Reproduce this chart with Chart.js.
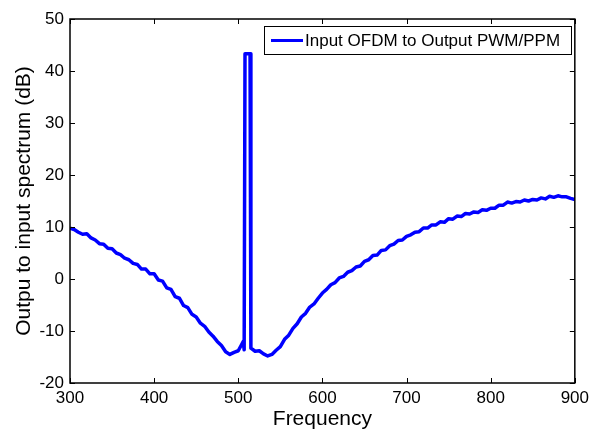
<!DOCTYPE html>
<html>
<head>
<meta charset="utf-8">
<script src="https://cdn.jsdelivr.net/npm/chart.js@4/dist/chart.umd.min.js"></script>
<style>
  html, body { margin: 0; padding: 0; background: #fff; }
  #wrap { width: 594px; height: 432px; }
</style>
</head>
<body>
<div id="wrap"><canvas id="grafico" width="594" height="432"></canvas></div>
<script>
// values
const frequencias = [300,305,310,315,320,325,330,335,340,345,350,355,360,365,370,375,380,385,390,395,
  400,405,410,415,420,425,430,435,440,445,450,455,460,465,470,475,480,485,490,495,
  500,504,506,507,508,514,515,520,525,530,535,540,545,550,555,560,565,570,575,580,
  585,590,595,600,605,610,615,620,625,630,635,640,645,650,655,660,665,670,675,680,
  685,690,695,700,705,710,715,720,725,730,735,740,745,750,755,760,765,770,775,780,
  785,790,795,800,805,810,815,820,825,830,835,840,845,850,855,860,865,870,875,880,
  885,890,895,900];
const ganhoDb = [9.8,9.5,9.0,8.6,8.7,7.9,7.5,6.8,6.7,5.9,5.8,5.0,4.7,4.0,3.7,3.0,2.8,1.9,1.9,1.0,
  1.0,-0.2,-0.4,-1.7,-2.0,-3.4,-3.7,-5.1,-5.5,-6.8,-7.3,-8.5,-9.1,-10.2,-11.0,-12.0,-12.8,-14.0,-14.5,-14.1,
  -13.8,-12.6,-12.0,-13.6,43.3,43.3,-13.3,-13.9,-13.8,-14.4,-14.8,-14.5,-13.7,-13.0,-11.6,-10.8,-9.5,-8.6,-7.3,-6.6,
  -5.4,-4.8,-3.7,-2.7,-2.0,-1.1,-0.7,0.2,0.5,1.3,1.6,2.3,2.5,3.4,3.7,4.5,4.6,5.5,5.6,6.4,
  6.7,7.4,7.5,8.2,8.5,9.0,9.1,9.8,9.8,10.4,10.4,11.0,10.9,11.6,11.5,12.1,12.0,12.6,12.5,12.9,
  12.8,13.3,13.2,13.6,13.6,14.2,14.2,14.8,14.6,14.9,14.8,15.2,15.0,15.3,15.2,15.6,15.4,15.9,15.7,16.0,
  15.8,15.8,15.5,15.3];
const serieNome = 'Input OFDM to Output PWM/PPM';
const xTicks = [300,400,500,600,700,800,900];
const yTicks = [-20,-10,0,10,20,30,40,50];

const fonte = 'Liberation Sans, Arial, sans-serif';

// box around the plot with inward ticks on all four sides, matlab style
const caixaPlugin = {
  id: 'caixa',
  afterDraw(chart) {
    const ctx = chart.ctx;
    const a = chart.chartArea;
    const sx = chart.scales.x, sy = chart.scales.y;
    const t = 5;
    ctx.save();
    ctx.strokeStyle = '#000';
    ctx.lineWidth = 1;
    ctx.beginPath();
    xTicks.forEach(v => {
      const px = Math.round(sx.getPixelForValue(v)) + 0.5;
      ctx.moveTo(px, a.bottom); ctx.lineTo(px, a.bottom - t);
      ctx.moveTo(px, a.top); ctx.lineTo(px, a.top + t);
    });
    yTicks.forEach(v => {
      const py = Math.round(sy.getPixelForValue(v)) + 0.5;
      ctx.moveTo(a.left, py); ctx.lineTo(a.left + t, py);
      ctx.moveTo(a.right, py); ctx.lineTo(a.right - t, py);
    });
    ctx.stroke();
    ctx.lineWidth = 1.5;
    ctx.strokeRect(a.left, a.top, a.right - a.left, a.bottom - a.top);

    // legend inside the plot, top right
    const ds = chart.data.datasets[0];
    const lx = 264.5, ly = 26.5, lw = 307, lh = 28;
    ctx.fillStyle = '#fff';
    ctx.fillRect(lx, ly, lw, lh);
    ctx.lineWidth = 1;
    ctx.strokeStyle = '#000';
    ctx.strokeRect(lx, ly, lw, lh);
    ctx.strokeStyle = ds.borderColor;
    ctx.lineWidth = 3;
    ctx.beginPath();
    ctx.moveTo(271, ly + lh / 2);
    ctx.lineTo(303, ly + lh / 2);
    ctx.stroke();
    ctx.fillStyle = '#000';
    ctx.font = '17px ' + fonte;
    ctx.textBaseline = 'middle';
    ctx.textAlign = 'left';
    ctx.fillText(ds.label, 305, ly + lh / 2 + 1);
    ctx.restore();
  }
};

function plotaGrafico() {
  const dados = frequencias.map((f, i) => ({ x: f, y: ganhoDb[i] }));
  const config = {
    type: 'line',
    data: {
      datasets: [{
        label: serieNome,
        data: dados,
        borderColor: '#0000ff',
        borderWidth: 3.5,
        borderJoinStyle: 'round',
        pointRadius: 0,
        tension: 0,
        fill: false
      }]
    },
    options: {
      responsive: false,
      animation: false,
      layout: { padding: { top: 19, right: 15, left: 0, bottom: 0 } },
      plugins: {
        legend: { display: false },
        tooltip: { enabled: false }
      },
      scales: {
        x: {
          type: 'linear',
          min: 300,
          max: 900,
          afterFit(scale) { scale.height = 49; },
          afterBuildTicks(scale) { scale.ticks = xTicks.map(v => ({ value: v })); },
          grid: { display: false, drawTicks: false },
          border: { display: false },
          ticks: {
            color: '#000',
            font: { family: fonte, size: 17 },
            padding: 5,
            maxRotation: 0
          },
          title: {
            display: true,
            text: 'Frequency',
            color: '#000',
            font: { family: fonte, size: 21 },
            padding: { top: 0, bottom: 0 }
          }
        },
        y: {
          min: -20,
          max: 50,
          afterFit(scale) { scale.width = 70; },
          afterBuildTicks(scale) { scale.ticks = yTicks.map(v => ({ value: v })); },
          grid: { display: false, drawTicks: false },
          border: { display: false },
          ticks: {
            color: '#000',
            font: { family: fonte, size: 17 },
            padding: 6
          },
          title: {
            display: true,
            text: 'Outpu to input spectrum (dB)',
            color: '#000',
            font: { family: fonte, size: 21 },
            padding: { top: 12, bottom: 0 }
          }
        }
      }
    },
    plugins: [caixaPlugin]
  };
  return new Chart(document.getElementById('grafico'), config);
}

plotaGrafico();
</script>
</body>
</html>
